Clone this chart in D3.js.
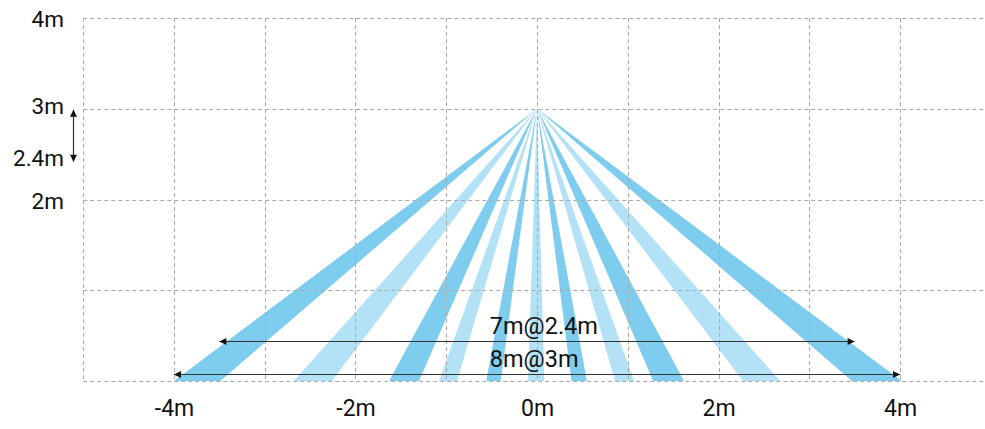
<!DOCTYPE html>
<html><head><meta charset="utf-8">
<script src="https://cdn.jsdelivr.net/npm/d3@7"></script>
<style>body{margin:0;background:#fff}svg{display:block}text{font-family:Roboto,sans-serif;fill:#111}</style>
</head><body><svg id="c" width="985" height="429"></svg>
<script>
const xGrid = [-5,-4,-3,-2,-1,0,1,2,3,4];
const yGrid = [0,1,2,3,4];
const xTickVals = [-4,-2,0,2,4];
const xTickLabels = ["-4m","-2m","0m","2m","4m"];
const yTickVals = [4,3,2.4,2];
const yTickLabels = ["4m","3m","2.4m","2m"];
const apex = [0,3];
const beamLeft  = [-4.0,-2.68,-1.63,-1.08,-0.56,-0.10,0.38,0.86,1.28,2.27,3.47];
const beamRight = [-3.49,-2.26,-1.30,-0.88,-0.40,0.08,0.55,1.07,1.62,2.68,4.02];
const beamShade = ["dark","light","dark","light","dark","light","dark","light","dark","light","dark"];
const rangeLabels = ["7m@2.4m","8m@3m"];
const rangeSpan = [3.5,4.0];
const rangeLevel = [0.44,0.08];
const heightArrow = [3,2.4];

const svg = d3.select("#c");
const x = d3.scaleLinear().domain([-5,5]).range([83.25,990.75]);
const y = d3.scaleLinear().domain([0,4]).range([381,18]);
const color = {dark:"#7ecdee", light:"#b3e2f6"};

// beams
const g = svg.append("g");
beamLeft.forEach((l,i)=>{
  const pts=[[x(apex[0]),y(apex[1])],[x(l),y(0)],[x(beamRight[i]),y(0)]];
  g.append("path").attr("d","M"+pts.map(p=>p.join(",")).join("L")+"Z").attr("fill",color[beamShade[i]]);
});

// grid
const grid = svg.append("g").attr("stroke","#aaa").attr("stroke-width",1).attr("stroke-dasharray","4,3").attr("fill","none");
xGrid.forEach(v=>grid.append("line").attr("x1",Math.round(x(v))+0.5).attr("x2",Math.round(x(v))+0.5).attr("y1",y(4)).attr("y2",y(0)));
yGrid.forEach(v=>grid.append("line").attr("x1",x(-5)).attr("x2",985).attr("y1",Math.round(y(v))+0.5).attr("y2",Math.round(y(v))+0.5));

// x axis labels
const xa = d3.axisBottom(x).tickValues(xTickVals).tickFormat((d,i)=>xTickLabels[i]).tickSize(0).tickPadding(0);
const xg = svg.append("g").attr("transform",`translate(0,${y(0)})`).call(xa);
xg.select(".domain").remove();
xg.selectAll("text").attr("y",35).attr("dy",0).style("font-size","23px").attr("fill","#111").style("font-family","Roboto,sans-serif");

// y axis labels
const yOffset = {4:8.5, 3:4.3, 2.4:2.2, 2:9};
const ya = d3.axisLeft(y).tickValues(yTickVals).tickFormat((d,i)=>yTickLabels[i]).tickSize(0).tickPadding(0);
const yg = svg.append("g").attr("transform",`translate(64,0)`).call(ya);
yg.select(".domain").remove();
yg.selectAll("text").attr("x",0).attr("dy",d=>yOffset[d]).style("font-size","22.5px").attr("fill","#111").style("font-family","Roboto,sans-serif");

// arrow markers
const defs = svg.append("defs");
defs.append("marker").attr("id","ah").attr("viewBox","0 0 10 10").attr("refX",10).attr("refY",5)
  .attr("markerWidth",9).attr("markerHeight",7).attr("markerUnits","userSpaceOnUse").attr("orient","auto-start-reverse")
  .append("path").attr("d","M0,0L10,5L0,10Z").attr("fill","#111");

// range arrows
rangeLabels.forEach((t,i)=>{
  const yy = Math.round(y(rangeLevel[i]))+0.5;
  svg.append("line").attr("x1",x(-rangeSpan[i])).attr("x2",x(rangeSpan[i])).attr("y1",yy).attr("y2",yy)
    .attr("stroke","#333").attr("stroke-width",1.2).attr("marker-start","url(#ah)").attr("marker-end","url(#ah)");
  svg.append("text").attr("x",x(-0.52)).attr("y",yy-7.5).attr("text-anchor","start").style("font-size","23.5px").text(t);
});

// height arrow
svg.append("line").attr("x1",73.5).attr("x2",73.5).attr("y1",y(heightArrow[0])+1).attr("y2",y(heightArrow[1])-1.5)
  .attr("stroke","#333").attr("stroke-width",1.2).attr("marker-start","url(#ah)").attr("marker-end","url(#ah)");
</script></body></html>
